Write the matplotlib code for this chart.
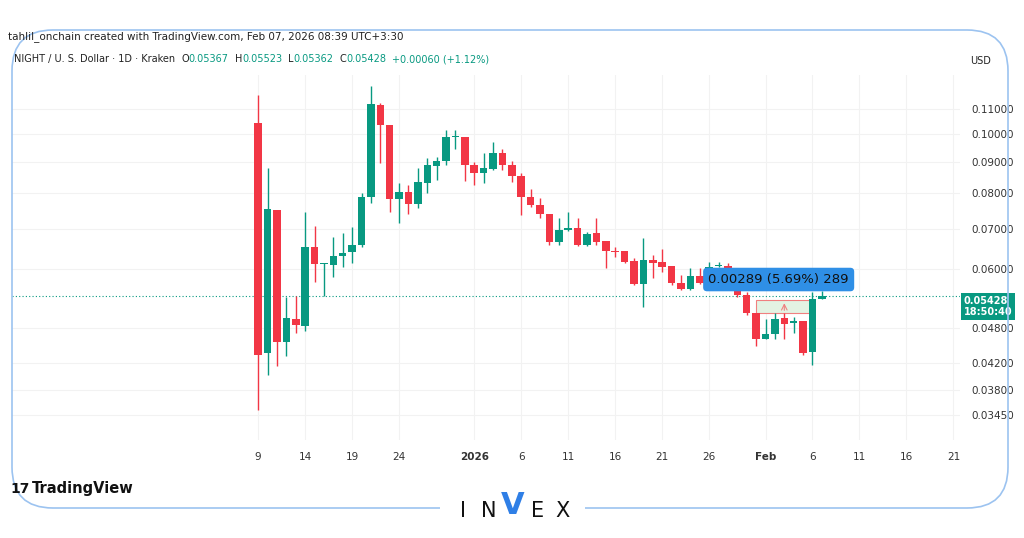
import matplotlib
matplotlib.use("Agg")
import matplotlib.pyplot as plt
from matplotlib.patches import FancyBboxPatch, Rectangle
from matplotlib.ticker import FixedLocator, NullLocator
import numpy as np
import pandas as pd

dates = pd.date_range("2025-12-09", "2026-02-07", freq="D")
opens = [0.1044,0.0436,0.0750,0.0455,0.0497,0.0484,0.0652,0.0611,0.0609,0.0631,0.0640,0.0657,0.0788,0.1117,0.1036,0.0782,0.0803,0.0768,0.0831,0.0887,0.0904,0.0990,0.0992,
         0.0890,0.0865,0.0876,0.0931,0.0890,0.0854,0.0788,0.0765,0.0739,0.0665,0.0696,0.0702,0.0657,0.0688,0.0667,0.0643,0.0642,0.0619,0.0567,0.0621,0.0616,0.0607,0.0569,0.0556,0.0585,0.0569,0.0607,0.0607,0.0583,0.0544,0.0508,
         0.0461,0.0470,0.0499,0.0489,0.0493,0.0439,0.05367]
highs = [0.1160,0.0880,0.0752,0.0540,0.0542,0.0744,0.0707,0.0614,0.0678,0.0688,0.0704,0.0800,0.1201,0.1126,0.1036,0.0831,0.0825,0.0880,0.0914,0.0917,0.1016,0.1016,0.0992,
         0.0900,0.0931,0.0971,0.0946,0.0904,0.0865,0.0812,0.0785,0.0741,0.0728,0.0744,0.0728,0.0691,0.0728,0.0667,0.0652,0.0642,0.0626,0.0675,0.0633,0.0647,0.0607,0.0587,0.0602,0.0602,0.0616,0.0616,0.0614,0.0583,0.0550,0.0508,
         0.0497,0.0508,0.0508,0.0501,0.0493,0.0550,0.05523]
lows = [0.0352,0.0401,0.0416,0.0431,0.0472,0.0474,0.0571,0.0542,0.0583,0.0605,0.0614,0.0652,0.0770,0.0897,0.0744,0.0714,0.0739,0.0756,0.0800,0.0841,0.0890,0.0946,0.0838,
        0.0825,0.0831,0.0873,0.0873,0.0834,0.0736,0.0759,0.0728,0.0657,0.0657,0.0694,0.0655,0.0655,0.0657,0.0602,0.0628,0.0614,0.0565,0.0520,0.0580,0.0593,0.0565,0.0554,0.0554,0.0567,0.0569,0.0605,0.0569,0.0540,0.0504,0.0448,
        0.0461,0.0461,0.0461,0.0472,0.0434,0.0418,0.05362]
closes = [0.0434,0.0753,0.0455,0.0499,0.0485,0.0652,0.0611,0.0614,0.0631,0.0638,0.0657,0.0788,0.1121,0.1036,0.0782,0.0803,0.0768,0.0834,0.0890,0.0904,0.0990,0.0992,0.0890,
          0.0863,0.0880,0.0931,0.0890,0.0854,0.0788,0.0765,0.0739,0.0665,0.0696,0.0701,0.0657,0.0686,0.0665,0.0643,0.0640,0.0616,0.0567,0.0621,0.0614,0.0605,0.0569,0.0556,0.0585,0.0569,0.0605,0.0609,0.0583,0.0544,0.0508,0.0461,
          0.0470,0.0497,0.0487,0.0493,0.0437,0.0536,0.05428]
ytick_vals = [0.0345,0.038,0.042,0.048,0.06,0.07,0.08,0.09,0.10,0.11]
xtick_dates = ["2025-12-09","2025-12-14","2025-12-19","2025-12-24","2026-01-01","2026-01-06","2026-01-11","2026-01-16","2026-01-21","2026-01-26","2026-02-01","2026-02-06","2026-02-11","2026-02-16","2026-02-21"]
xtick_labels = ["9","14","19","24","2026","6","11","16","21","26","Feb","6","11","16","21"]
last_price = 0.05428
meas_start, meas_end = "2026-01-31", "2026-02-06"
meas_lo, meas_hi = 0.0508, 0.0533

GREEN = "#089981"; RED = "#F23645"
W, H = 1024, 538
fig = plt.figure(figsize=(W/100, H/100), dpi=100)
fig.patch.set_facecolor("white")

x = (dates - dates[0]).days.values.astype(float)
ax = fig.add_axes([12/W, 1-440/H, (960-12)/W, (440-75)/H])
ax.set_yscale("log")
ax.set_xlim(-26.2, 74.7)
ax.set_ylim(0.0314, 0.1253)
for xi, o, h, l, c in zip(x, opens, highs, lows, closes):
    col = GREEN if c >= o else RED
    ax.vlines(xi, l, h, color=col, lw=1, zorder=3)
    lo_, hi_ = min(o, c), max(o, c)
    if hi_/lo_ < 1.004:
        hi_ = lo_*1.004
    ax.add_patch(Rectangle((xi-0.4, lo_), 0.8, hi_-lo_, color=col, zorder=4, lw=0))

ax.yaxis.tick_right()
ax.yaxis.set_major_locator(FixedLocator(ytick_vals))
ax.yaxis.set_minor_locator(NullLocator())
ax.set_yticklabels([f"{v:.5f}" for v in ytick_vals])
xt = [(pd.Timestamp(d) - dates[0]).days for d in xtick_dates]
ax.set_xticks(xt)
ax.set_xticklabels(xtick_labels)
ax.tick_params(length=0, labelsize=7.5, colors="#333333")
ax.tick_params(axis="y", pad=8)
ax.tick_params(axis="x", pad=9)
for lab in ax.get_xticklabels():
    if lab.get_text() in ("2026", "Feb"):
        lab.set_fontweight("bold")
ax.grid(True, color="#f2f2f2", lw=0.8)
for s in ax.spines.values():
    s.set_visible(False)

ax.axhline(last_price, color=GREEN, lw=0.8, ls=(0, (1, 2)), zorder=2)

xs = (pd.Timestamp(meas_start) - dates[0]).days
xe = (pd.Timestamp(meas_end) - dates[0]).days
ax.add_patch(Rectangle((xs, meas_lo), xe - xs, meas_hi - meas_lo, facecolor="#e3f3e3", edgecolor="#f08080", lw=0.8, zorder=2))
ax.annotate("", xy=((xs+xe)/2, meas_hi), xytext=((xs+xe)/2, meas_lo),
            arrowprops=dict(arrowstyle="->", color="#f08080", lw=0.8), zorder=2)
ax.text((xs+xe)/2 - 0.6, 0.0577, "0.00289 (5.69%) 289", ha="center", va="center", fontsize=9.5, color="#111111", zorder=6,
        bbox=dict(boxstyle="round,pad=0.4,rounding_size=0.3", fc="#2f8fe6", ec="none"))

ax.text(1.004, last_price, "0.05428\n18:50:40", transform=ax.get_yaxis_transform(), ha="left", va="top",
        fontsize=7, color="white", fontweight="bold", zorder=7, linespacing=1.2,
        bbox=dict(boxstyle="square,pad=0.3", fc=GREEN, ec="none"), clip_on=False)

# header
fig.text(8/W, 1-37/H, "tahlil_onchain created with TradingView.com, Feb 07, 2026 08:39 UTC+3:30", fontsize=7.5, color="#222222", va="center")
fig.canvas.draw()
rend = fig.canvas.get_renderer()
pieces = [("NIGHT / U. S. Dollar · 1D · Kraken", "#222222", 6), ("O", "#222222", 0), ("0.05367", GREEN, 6),
          ("H", "#222222", 0), ("0.05523", GREEN, 6), ("L", "#222222", 0), ("0.05362", GREEN, 6),
          ("C", "#222222", 0), ("0.05428", GREEN, 6), ("+0.00060 (+1.12%)", GREEN, 0)]
xp = 14
for txt, col, gap in pieces:
    t = fig.text(xp/W, 1-59/H, txt, fontsize=7, color=col, va="center")
    xp += t.get_window_extent(rend).width + gap

fig.text(981/W, 1-61/H, "USD", fontsize=7, color="#222222", ha="center", va="center")

fig.patches.append(FancyBboxPatch((12/W, 1-508/H), (1008-12)/W, (508-30)/H,
                                  boxstyle="round,pad=0,rounding_size=0.04", transform=fig.transFigure,
                                  fill=False, ec="#9cc3f0", lw=1.2, mutation_aspect=W/H))
fig.patches.append(Rectangle((440/W, 1-515/H), 145/W, 15/H, transform=fig.transFigure, fc="white", ec="none"))
fig.text(32/W, 1-489/H, "TradingView", fontsize=10.5, fontweight="bold", color="#111111", va="center")
fig.text(10/W, 1-489/H, "17", fontsize=10, fontweight="bold", color="#111111", va="center")
for lx, lt in [(463, "I"), (489, "N"), (538, "E"), (563, "X")]:
    fig.text(lx/W, 1-511/H, lt, fontsize=15, color="#111111", ha="center", va="center")
fig.text(513/W, 1-506/H, "V", fontsize=22, fontweight="bold", color="#2f7fe6", ha="center", va="center")

fig.savefig("out.png", dpi=100)
